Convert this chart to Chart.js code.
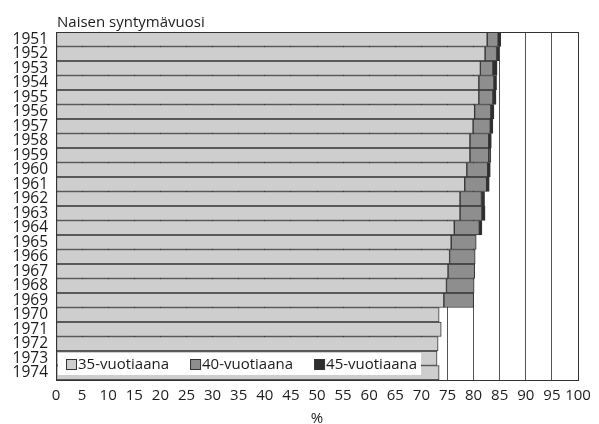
<!DOCTYPE html>
<html>
<head>
<meta charset="utf-8">
<script src="https://cdn.jsdelivr.net/npm/chart.js@4.4.1/dist/chart.umd.min.js"></script>
<style>
  html, body { margin: 0; padding: 0; background: #fff; }
  #wrap { width: 599px; height: 424px; }
</style>
</head>
<body>
<div id="wrap"><canvas id="chart" width="599" height="424"></canvas></div>
<script>
// birth years of the women
const years = ['1951', '1952', '1953', '1954', '1955', '1956', '1957', '1958', '1959', '1960',
    '1961', '1962', '1963', '1964', '1965', '1966', '1967', '1968', '1969', '1970',
    '1971', '1972', '1973', '1974'];

// share (%) who had given birth by the given age (cumulative)
const by35 = [82.6, 82.2, 81.3, 81.0, 81.0, 80.2, 79.9, 79.3, 79.3, 78.7, 78.3, 77.4,
    77.4, 76.3, 75.7, 75.4, 75.1, 74.8, 74.3, 73.4, 73.8, 73.2, 73.0, 73.4];
const by40 = [84.7, 84.4, 83.7, 83.9, 83.7, 83.3, 83.2, 82.9, 82.9, 82.7, 82.5, 81.5,
    81.6, 81.1, 80.5, 80.3, 80.2, 80.1, 80.0, null, null, null, null, null];
const by45 = [85.2, 84.9, 84.5, 84.4, 84.3, 83.9, 83.7, 83.4, 83.3, 83.2, 83.0, 82.1,
    82.2, 81.6, null, null, null, null, null, null, null, null, null, null];

const seriesNames = ['35-vuotiaana', '40-vuotiaana', '45-vuotiaana'];
const xTicks = { min: 0, max: 100, step: 5 };

const FONT = '"Open Sans", "DejaVu Sans", sans-serif';
const INK = '#1c1c1c';
const fills = ['#cecece', '#8e8e8e', '#2e2e2e'];

// stacked segments: the part added between two ages
const seg40 = by40.map((v, i) => v == null ? null : +(v - by35[i]).toFixed(2));
const seg45 = by45.map((v, i) => v == null ? null : +(v - by40[i]).toFixed(2));

const extras = {
    id: 'extras',
    afterDatasetsDraw(chart) {
        const { ctx, chartArea: a } = chart;
        ctx.save();
        // frame round the plot
        ctx.strokeStyle = '#333';
        ctx.lineWidth = 1;
        ctx.strokeRect(Math.round(a.left) + 0.5, Math.round(a.top) + 0.5,
            Math.round(a.right - a.left), Math.round(a.bottom - a.top));

        // title above the plot
        ctx.fillStyle = INK;
        ctx.font = '15px ' + FONT;
        ctx.textAlign = 'left';
        ctx.textBaseline = 'alphabetic';
        ctx.fillText('Naisen syntymävuosi', a.left + 1, a.top - 5);

        // legend box inside the plot, bottom left
        ctx.font = '15px ' + FONT;
        const bx = a.left + 2, by = a.bottom - 27, bh = 22;
        let x = bx + 8;
        const items = chart.data.datasets.map((d) => {
            const w = ctx.measureText(d.label).width;
            const it = { x, w, label: d.label, color: d.backgroundColor };
            x += 12 + w + 21;
            return it;
        });
        const bw = x - 21 + 4 - bx;
        ctx.fillStyle = '#fff';
        ctx.fillRect(bx, by, bw, bh);
        items.forEach(it => {
            ctx.fillStyle = it.color;
            ctx.fillRect(it.x + 0.5, by + 6.5, 10, 10);
            ctx.strokeStyle = '#333';
            ctx.strokeRect(it.x + 0.5, by + 6.5, 10, 10);
            ctx.fillStyle = INK;
            ctx.textBaseline = 'middle';
            ctx.fillText(it.label, it.x + 12, by + bh / 2 + 0.5);
        });
        ctx.restore();
    }
};

new Chart(document.getElementById('chart'), {
    type: 'bar',
    data: {
        labels: years,
        datasets: [
            { label: seriesNames[0], data: by35, backgroundColor: fills[0] },
            { label: seriesNames[1], data: seg40, backgroundColor: fills[1] },
            { label: seriesNames[2], data: seg45, backgroundColor: fills[2] }
        ]
    },
    plugins: [extras],
    options: {
        indexAxis: 'y',
        responsive: false,
        animation: false,
        layout: { padding: { top: 32, right: 21, left: 0, bottom: 0 } },
        datasets: {
            bar: {
                barPercentage: 1,
                categoryPercentage: 1,
                borderWidth: 1,
                borderColor: '#333',
                borderSkipped: false
            }
        },
        plugins: {
            legend: { display: false },
            tooltip: { enabled: false },
            title: { display: false }
        },
        scales: {
            x: {
                stacked: true,
                min: xTicks.min,
                max: xTicks.max,
                grid: { color: '#555', lineWidth: 1, drawTicks: false },
                border: { display: true, color: '#333' },
                ticks: {
                    stepSize: xTicks.step,
                    padding: 7,
                    color: INK,
                    font: { family: FONT, size: 15 },
                    maxRotation: 0,
                    autoSkip: false
                },
                title: {
                    display: true,
                    text: '%',
                    color: INK,
                    font: { family: FONT, size: 15 },
                    padding: { top: 0, bottom: -4 }
                },
                afterFit: (s) => { s.height = 44; }
            },
            y: {
                stacked: true,
                grid: { display: false, drawTicks: false },
                border: { display: true, color: '#333' },
                ticks: {
                    padding: 8,
                    color: INK,
                    font: { family: FONT, size: 15.5 },
                    autoSkip: false
                },
                afterFit: (s) => { s.width = 56; }
            }
        }
    }
});
</script>
</body>
</html>
